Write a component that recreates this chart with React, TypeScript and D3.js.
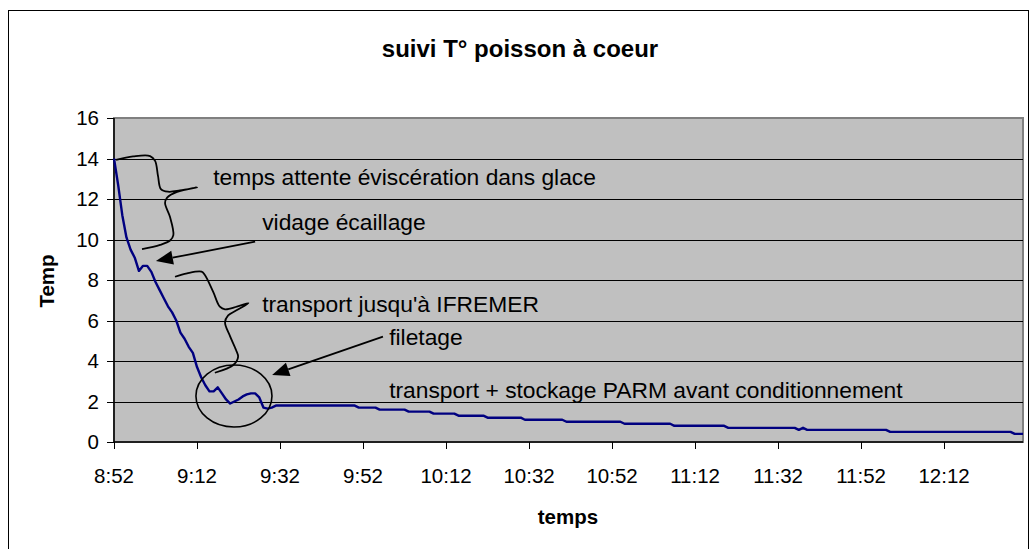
import React from "react";
import * as d3 from "d3";

// ---------- data ----------
const chartTitle = "suivi T° poisson à coeur";
const xAxisTitle = "temps";
const yAxisTitle = "Temp";
const startTime = "8:52";
const xTickLabels = ["8:52", "9:12", "9:32", "9:52", "10:12", "10:32", "10:52", "11:12", "11:32", "11:52", "12:12"];
const yTicks = [0, 2, 4, 6, 8, 10, 12, 14, 16];
const lastMinute = 219; // 12:31

// minutes after 8:52 and core temperature (°C)
const minutes = [
  0, 1, 2, 3, 4, 5, 6, 7, 8, 9, 10, 11, 12, 13, 14, 15, 16, 17, 18, 19,
  20, 21, 22, 23, 24, 25, 26, 27, 28, 29, 30, 31, 32, 33, 34, 35, 36, 37, 38, 39,
  58, 59, 63, 64, 70, 71, 76, 77, 82, 83, 89, 90, 98, 99, 108, 109, 122, 123,
  134, 135, 147, 148, 164, 165, 166, 167, 186, 187, 216, 217, 219,
];
const temps = [
  14.0, 12.7, 11.2, 10.1, 9.5, 9.1, 8.45, 8.7, 8.7, 8.4, 7.9, 7.5, 7.1, 6.7, 6.4, 6.0, 5.4, 5.1, 4.7, 4.4,
  3.7, 3.2, 2.8, 2.5, 2.5, 2.7, 2.4, 2.1, 1.9, 2.0, 2.1, 2.25, 2.35, 2.4, 2.4, 2.2, 1.7, 1.65, 1.7, 1.8,
  1.8, 1.7, 1.7, 1.6, 1.6, 1.5, 1.5, 1.4, 1.4, 1.3, 1.3, 1.2, 1.2, 1.1, 1.1, 1.0, 1.0, 0.9,
  0.9, 0.8, 0.8, 0.7, 0.7, 0.6, 0.7, 0.6, 0.6, 0.5, 0.5, 0.4, 0.4,
];

// annotations (in data coordinates: minute, temperature)
const brace1: [number, number][] = [
  [0.5, 13.93], [4.6, 14.1], [8.7, 14.12], [9.9, 13.88], [10.6, 13.14], [11.3, 12.49], [13.0, 12.36],
  [15.9, 12.42], [20.0, 12.58], [15.2, 12.35], [12.8, 12.07], [12.3, 11.8], [13.5, 11.11], [14.3, 10.22],
  [13.5, 9.95], [11.1, 9.73], [6.75, 9.52],
];
const brace2: [number, number][] = [
  [14.7, 8.16], [17.6, 8.33], [21.1, 8.41], [21.9, 8.25], [23.9, 7.41], [25.5, 6.68], [26.75, 6.55],
  [29.6, 6.68], [32.4, 6.86], [29.4, 6.49], [27.5, 6.25], [26.75, 5.9], [27.95, 5.23], [29.4, 4.54],
  [29.9, 4.2], [28.75, 3.8], [24.3, 3.42],
];
const arrows: { from: [number, number]; to: [number, number] }[] = [
  { from: [34.0, 9.89], to: [10.1, 8.94] },
  { from: [64.8, 5.2], to: [38.1, 3.31] },
];
const circleCenter: [number, number] = [28.9, 2.27];
const circleRadii: [number, number] = [9.16, 1.53];
const labels: { text: string; at: [number, number] }[] = [
  { text: "temps attente éviscération dans glace", at: [23.9, 12.69] },
  { text: "vidage écaillage", at: [35.7, 10.47] },
  { text: "transport jusqu'à IFREMER", at: [35.7, 6.44] },
  { text: "filetage", at: [66.3, 4.79] },
  { text: "transport + stockage PARM avant conditionnement", at: [66.3, 2.15] },
];

// ---------- helpers ----------
const toMin = (s: string) => {
  const [h, m] = s.split(":").map(Number);
  return h * 60 + m;
};

const W = 1030;
const H = 549;
const M = { left: 114, right: 1023, top: 118, bottom: 442 };
const FONT = "'Liberation Sans', Arial, Helvetica, sans-serif";

export default function App() {
  const x = d3.scaleLinear().domain([0, lastMinute]).range([M.left, M.right]);
  const y = d3.scaleLinear().domain([0, 16]).range([M.bottom, M.top]);
  const t0 = toMin(startTime);
  const xTicks = xTickLabels.map((l) => ({ label: l, m: toMin(l) - t0 }));

  const pts = minutes.map((m, i) => [m, temps[i]] as [number, number]);
  const line = d3
    .line<[number, number]>()
    .x((d) => x(d[0]))
    .y((d) => y(d[1]));
  const smooth = d3
    .line<[number, number]>()
    .x((d) => x(d[0]))
    .y((d) => y(d[1]))
    .curve(d3.curveCatmullRom.alpha(0.5));

  const arrowShapes = arrows.map((a) => {
    const x1 = x(a.from[0]), y1 = y(a.from[1]);
    const x2 = x(a.to[0]), y2 = y(a.to[1]);
    const dx = x2 - x1, dy = y2 - y1;
    const len = Math.hypot(dx, dy);
    const ux = dx / len, uy = dy / len;
    const hl = 17, hw = 7;
    const bx = x2 - ux * hl, by = y2 - uy * hl;
    const tri = `M${x2},${y2}L${bx - uy * hw},${by + ux * hw}L${bx + uy * hw},${by - ux * hw}Z`;
    return { x1, y1, bx, by, tri };
  });

  return (
    <svg
      width={W}
      height={H}
      style={{ position: "absolute", left: 0, top: 0, display: "block", background: "#fff" }}
      fontFamily={FONT}
    >
      {/* outer chart border */}
      <rect x={8.5} y={10.5} width={1020} height={560} fill="#fff" stroke="#000" strokeWidth={1} />
      {/* plot area */}
      <rect x={M.left} y={M.top} width={M.right - M.left} height={M.bottom - M.top} fill="#c0c0c0" stroke="#808080" strokeWidth={2} />
      {/* gridlines */}
      {yTicks.filter((v) => v > 0 && v < 16).map((v) => (
        <line key={v} x1={M.left} x2={M.right} y1={Math.round(y(v)) + 0.5} y2={Math.round(y(v)) + 0.5} stroke="#000" strokeWidth={1} />
      ))}
      {/* axes */}
      <line x1={M.left} x2={M.left} y1={M.top} y2={M.bottom} stroke="#000" strokeWidth={1.5} />
      <line x1={M.left} x2={M.right} y1={M.bottom} y2={M.bottom} stroke="#000" strokeWidth={1.5} />
      {yTicks.map((v) => (
        <g key={v}>
          <line x1={M.left - 7} x2={M.left} y1={Math.round(y(v)) + 0.5} y2={Math.round(y(v)) + 0.5} stroke="#000" />
          <text x={99} y={y(v)} dy="0.35em" textAnchor="end" fontSize={20.5}>{v}</text>
        </g>
      ))}
      {xTicks.map((t) => (
        <g key={t.label}>
          <line x1={Math.round(x(t.m)) + 0.5} x2={Math.round(x(t.m)) + 0.5} y1={M.bottom} y2={M.bottom + 7} stroke="#000" />
          <text x={x(t.m)} y={483} textAnchor="middle" fontSize={20.5}>{t.label}</text>
        </g>
      ))}
      {/* series */}
      <path d={line(pts) || ""} fill="none" stroke="#000080" strokeWidth={2.4} strokeLinejoin="round" />
      {/* annotations */}
      <path d={smooth(brace1) || ""} fill="none" stroke="#000" strokeWidth={1.8} />
      <path d={smooth(brace2) || ""} fill="none" stroke="#000" strokeWidth={1.8} />
      {arrowShapes.map((a, i) => (
        <g key={i}>
          <line x1={a.x1} y1={a.y1} x2={a.bx} y2={a.by} stroke="#000" strokeWidth={1.8} />
          <path d={a.tri} fill="#000" />
        </g>
      ))}
      <ellipse
        cx={x(circleCenter[0])}
        cy={y(circleCenter[1])}
        rx={x(circleRadii[0]) - x(0)}
        ry={y(0) - y(circleRadii[1])}
        fill="none"
        stroke="#000"
        strokeWidth={1.6}
      />
      {labels.map((l) => (
        <text key={l.text} x={x(l.at[0])} y={y(l.at[1])} fontSize={22.8}>{l.text}</text>
      ))}
      {/* titles */}
      <text x={520} y={57} textAnchor="middle" fontSize={24} fontWeight="bold">{chartTitle}</text>
      <text x={568} y={524} textAnchor="middle" fontSize={20.5} fontWeight="bold">{xAxisTitle}</text>
      <text transform={`translate(54,281) rotate(-90)`} textAnchor="middle" fontSize={20.5} fontWeight="bold">{yAxisTitle}</text>
    </svg>
  );
}
